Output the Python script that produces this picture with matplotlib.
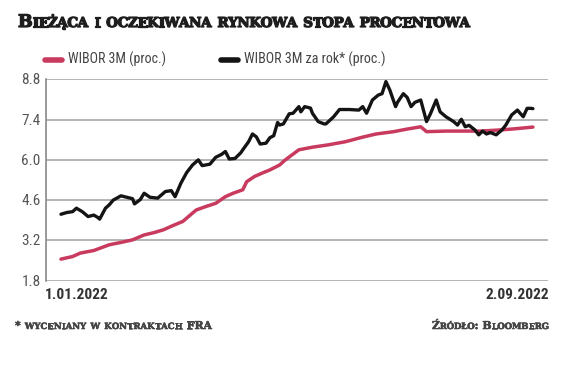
import matplotlib
matplotlib.use("Agg")
import matplotlib.pyplot as plt
import matplotlib.patheffects as pe
from matplotlib import font_manager
import pandas as pd

# ---- data (days since 1.01.2022, values in %) ----
black_days = [0, 3, 6, 8, 11, 14, 17, 19, 20, 23, 25, 27, 31, 34, 37, 38, 41, 43, 46, 50,
              54, 57, 59, 62, 65, 68, 71, 73, 77, 80, 83, 85, 87, 90, 93, 94, 97, 99, 101, 103,
              106, 108, 110, 112, 113, 115, 118, 120, 123, 124, 126, 129, 130, 133, 136, 137, 141, 144, 149, 154,
              156, 158, 161, 164, 166, 168, 170, 173, 174, 177, 179, 181, 183, 186, 189, 191, 194, 196, 199, 203,
              205, 207, 209, 211, 214, 216, 218, 220, 222, 225, 228, 230, 233, 236, 237, 239, 241, 243, 244]
black_vals = [4.11, 4.17, 4.20, 4.32, 4.20, 4.03, 4.08, 4.00, 3.94, 4.32, 4.44, 4.60, 4.75, 4.70, 4.65, 4.47, 4.62, 4.84, 4.70, 4.67,
              4.90, 4.93, 4.72, 5.19, 5.56, 5.82, 6.00, 5.80, 5.85, 6.09, 6.19, 6.29, 6.03, 6.05, 6.25, 6.35, 6.63, 6.90, 6.80, 6.55,
              6.58, 6.77, 6.84, 7.30, 7.21, 7.25, 7.60, 7.62, 7.85, 7.67, 7.85, 7.80, 7.62, 7.33, 7.25, 7.25, 7.50, 7.75, 7.75, 7.73,
              7.85, 7.62, 8.08, 8.25, 8.30, 8.72, 8.43, 7.85, 8.00, 8.30, 8.17, 7.85, 8.00, 8.08, 7.33, 7.60, 8.08, 7.67, 7.50, 7.33,
              7.21, 7.41, 7.15, 7.20, 7.04, 6.87, 7.00, 6.90, 6.95, 6.87, 7.04, 7.21, 7.56, 7.73, 7.65, 7.50, 7.79, 7.79, 7.78]

red_days = [0, 6, 10, 17, 25, 31, 37, 43, 48, 53, 58, 63, 68, 70, 75, 80, 85, 89, 94, 96,
            100, 104, 108, 113, 116, 120, 123, 130, 138, 147, 156, 163, 172, 179, 186, 189, 199, 217, 227, 233,
            241, 244]
red_vals = [2.55, 2.64, 2.76, 2.85, 3.05, 3.13, 3.22, 3.39, 3.47, 3.57, 3.72, 3.86, 4.15, 4.26, 4.38, 4.49, 4.72, 4.84, 4.96, 5.24,
            5.42, 5.54, 5.65, 5.82, 6.00, 6.20, 6.35, 6.44, 6.52, 6.63, 6.79, 6.90, 6.98, 7.07, 7.15, 6.98, 7.00, 7.00, 7.04, 7.07,
            7.12, 7.14]

start_date = "2022-01-01"
y_ticks = [1.8, 3.2, 4.6, 6.0, 7.4, 8.8]
x_labels = ["1.01.2022", "2.09.2022"]
legend_labels = ["WIBOR 3M (proc.)", "WIBOR 3M za rok* (proc.)"]
title_text = "Bieżąca i oczekiwana rynkowa stopa procentowa"
note_text = "* wyceniany w kontraktach FRA"
source_text = "Źródło: Bloomberg"

RED = "#c93a5f"
BLACK = "#141414"
GRID = "#a8a8a8"
TXT = "#555555"

names = {f.name for f in font_manager.fontManager.ttflist}
NARROW = "DejaVu Sans Condensed"
for cand in ["Roboto Condensed", "Liberation Sans Narrow", "Open Sans Condensed"]:
    if cand in names:
        NARROW = cand
        break
SERIF = "DejaVu Serif" if "DejaVu Serif" in names else "Liberation Serif"

t0 = pd.Timestamp(start_date)
black_x = [t0 + pd.Timedelta(days=d) for d in black_days]
red_x = [t0 + pd.Timedelta(days=d) for d in red_days]

W, H = 564, 365
fig = plt.figure(figsize=(W / 100, H / 100), dpi=100)
ax = fig.add_axes([45.7 / W, 1 - 280.7 / H, (548 - 45.7) / W, (280.7 - 79.3) / H])

ax.plot(red_x, red_vals, color=RED, lw=2.5, solid_capstyle="round", solid_joinstyle="round", zorder=3)
ax.plot(black_x, black_vals, color=BLACK, lw=2.4, solid_capstyle="round", solid_joinstyle="round", zorder=4)

ax.set_ylim(y_ticks[0], y_ticks[-1])
ax.set_xlim(t0 - pd.Timedelta(days=7.9), t0 + pd.Timedelta(days=251.8))
ax.set_yticks(y_ticks)
ax.set_yticklabels([])
ax.set_xticks([])
for s in ["top", "right", "bottom"]:
    ax.spines[s].set_visible(False)
ax.spines["left"].set_color("#888888")
ax.spines["left"].set_linewidth(1.2)
ax.yaxis.grid(True, color=GRID, lw=1.2)
ax.set_axisbelow(True)
ax.tick_params(axis="y", length=0)

fig.canvas.draw()
R = fig.canvas.get_renderer()


def fit_text(x_px, y_px, s, target_w, max_size, ha="left", **kw):
    t = fig.text(x_px / W, 1 - y_px / H, s, ha=ha, va="baseline", fontsize=max_size, **kw)
    w = t.get_window_extent(R).width
    if w > target_w:
        t.set_fontsize(max_size * target_w / w)
    return t


# y tick labels (right aligned at x=40)
yaxis_top, yaxis_bot = 79.3, 280.7
for v in y_ticks:
    ypx = yaxis_bot - (v - y_ticks[0]) / (y_ticks[-1] - y_ticks[0]) * (yaxis_bot - yaxis_top)
    fit_text(40.5, ypx + 5, f"{v:.1f}", 19, 11.5, ha="right", color=TXT, family=NARROW)

# x labels
fit_text(45, 299, x_labels[0], 63, 12.0, fontweight="bold", color="#333333", family=NARROW)
fit_text(549, 299, x_labels[1], 63, 12.0, ha="right", fontweight="bold", color="#333333", family=NARROW)

# legend
ly = 1 - 60 / H
fig.add_artist(plt.Line2D([45 / W, 62 / W], [ly, ly], color=RED, lw=4, solid_capstyle="round"))
fit_text(68, 64, legend_labels[0], 98, 10.5, color="#444444", family=NARROW)
fig.add_artist(plt.Line2D([221 / W, 238 / W], [ly, ly], color=BLACK, lw=4, solid_capstyle="round"))
fit_text(244, 64, legend_labels[1], 142, 10.5, color="#444444", family=NARROW)


def small_caps(x_px, y_px, text, big, small, color, width_px, align="left", family=SERIF, stroke=0.0):
    """Emulated small caps, character by character, tracked to span width_px."""
    objs = []
    total = 0
    effects = [pe.withStroke(linewidth=stroke, foreground=color)] if stroke > 0 else []
    for ch in text:
        is_big = ch.isupper() or (not ch.isalpha() and ch != " ")
        t = fig.text(0, 0, ch.upper() if ch != " " else "", fontsize=big if is_big else small,
                     fontweight="bold", color=color, family=family, ha="left", va="baseline",
                     path_effects=effects)
        w = t.get_window_extent(R).width if ch != " " else small * 0.7
        objs.append((t, w))
        total += w
    extra = (width_px - total) / max(len(objs) - 1, 1)
    x = x_px if align == "left" else x_px - width_px
    for t, w in objs:
        t.set_position((x / W, 1 - y_px / H))
        x += w + extra


small_caps(18, 27, title_text, 12.5, 9.8, "#1e1e1e", 452, stroke=0.9)
small_caps(15, 329, note_text, 7.8, 6.2, "#444444", 197, stroke=0.4)
small_caps(549, 329, source_text, 7.8, 6.2, "#444444", 117, align="right", stroke=0.4)

fig.savefig("out.png", dpi=100, facecolor="white")
